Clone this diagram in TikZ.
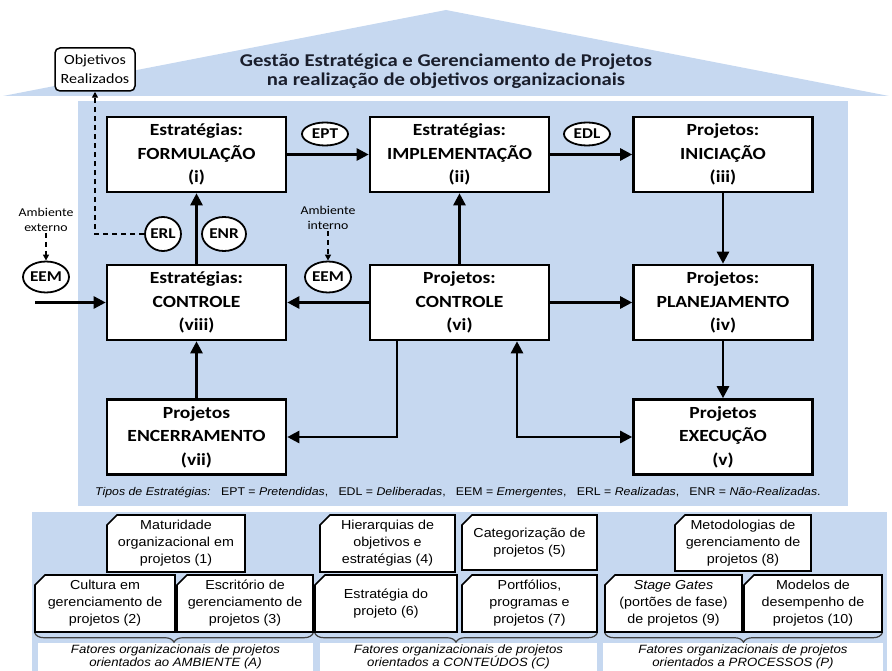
\documentclass[tikz,border=0pt]{standalone}
\usepackage{fontspec}
\setmainfont{Carlito}[FakeStretch=1.15]
\newfontfamily\arialf{Liberation Sans}[FakeStretch=1.1]
\usetikzlibrary{arrows.meta,shapes.geometric,decorations.pathreplacing}

\definecolor{paleblue}{RGB}{198,216,240}
\definecolor{titleink}{RGB}{26,30,44}

\tikzset{
  stagebox/.style={draw=black, line width=2.6pt, fill=white,
    minimum width=179pt, minimum height=75pt, inner sep=0pt, align=center,
    font=\bfseries\fontsize{17}{23.5}\selectfont},
  tag/.style={ellipse, draw=black, line width=1.8pt, fill=white,
    minimum width=46pt, minimum height=23pt, inner sep=0pt,
    font=\bfseries\fontsize{15}{15}\selectfont},
  flow/.style={line width=2.6pt, -{Triangle[length=12pt,width=12pt]}},
  twoway/.style={line width=2.6pt,
    {Triangle[length=12pt,width=12pt]}-{Triangle[length=12pt,width=12pt]}},
  hint/.style={line width=1.4pt, dash pattern=on 5pt off 4pt,
    -{Triangle[length=6pt,width=6pt]}},
  envtext/.style={align=center, inner sep=1pt,
    font=\fontsize{12}{15}\selectfont},
  factorframe/.style={draw=black, line width=1.6pt, fill=white},
  factortext/.style={inner sep=0pt, align=center,
    font=\arialf\fontsize{13}{17}\selectfont},
  factorgroup/.style={fill=white, inner sep=0pt, align=center,
    font=\arialf\itshape\fontsize{12}{13.5}\selectfont},
  groupbrace/.style={decorate, decoration={brace, amplitude=9pt},
    line width=1.2pt, draw=black!75},
}

% organisational factor box with a snipped top-left corner
% #1 name, #2 centre x, #3 centre y, #4 width, #5 height, #6 text
\newcommand\factorbox[6]{%
  \filldraw[factorframe]
    ({#2-#4/2},{#3+#5/2}) -- ({#2-#4/2},{#3-#5/2+10}) --
    ({#2-#4/2+10},{#3-#5/2}) -- ({#2+#4/2},{#3-#5/2}) --
    ({#2+#4/2},{#3+#5/2}) -- cycle;
  \node[factortext, minimum width=#4, minimum height=#5] (#1) at (#2,#3) {#6};}

\begin{document}
\begin{tikzpicture}[x=1pt,y=-1pt]
\useasboundingbox (0,0) rectangle (892,671);

% roof and the two panels
\fill[paleblue] (3,96) -- (446,10) -- (889,96) -- cycle;
\fill[paleblue] (78,101) rectangle (848,506);
\fill[paleblue] (32,512) rectangle (887,671);

% title under the roof
\node[font=\bfseries\fontsize{18}{18.5}\selectfont, text=titleink, align=center]
  (title) at (446,71)
  {Gestão Estratégica e Gerenciamento de Projetos\\na realização de objetivos organizacionais};

% realised objectives
\node[draw=black, line width=1.5pt, fill=white, rounded corners=5pt,
  minimum width=80pt, minimum height=43pt, inner sep=0pt, align=center,
  font=\fontsize{14}{19}\selectfont] (goal) at (95,69.5) {Objetivos\\Realizados};

% strategy and project stages
\node[stagebox] (form)  at (196.5,154.5) {Estratégias:\\FORMULAÇÃO\\(i)};
\node[stagebox] (impl)  at (459.5,154.5) {Estratégias:\\IMPLEMENTAÇÃO\\(ii)};
\node[stagebox] (inic)  at (723,154.5)   {Projetos:\\INICIAÇÃO\\(iii)};
\node[stagebox] (ectrl) at (196.5,302.5) {Estratégias:\\CONTROLE\\(viii)};
\node[stagebox] (pctrl) at (459.5,302.5) {Projetos:\\CONTROLE\\(vi)};
\node[stagebox] (plan)  at (723,302.5)   {Projetos:\\PLANEJAMENTO\\(iv)};
\node[stagebox] (enc)   at (196.5,437)   {Projetos\\ENCERRAMENTO\\(vii)};
\node[stagebox] (exec)  at (723,437)     {Projetos\\EXECUÇÃO\\(v)};

% strategy type tags
\node[tag] (ept) at (325,134) {EPT};
\node[tag] (edl) at (587,134) {EDL};
\node[tag, minimum width=34pt, minimum height=34pt] (erl) at (163,234) {ERL};
\node[tag, minimum width=44pt, minimum height=34pt] (enr) at (224,234) {ENR};
\node[tag, minimum height=31pt] (eemx) at (46,277) {EEM};
\node[tag, minimum height=31pt] (eemi) at (328,277) {EEM};

% environment inputs
\node[envtext] (extenv) at (46,220) {Ambiente\\externo};
\node[envtext] (intenv) at (328,218) {Ambiente\\interno};
\draw[hint] (extenv) -- (eemx);
\draw[hint] (intenv) -- (eemi);
\draw[hint] (erl.west) -| (goal.south);
\coordinate (extin) at (35,302.5);
\draw[flow] (extin) -- (ectrl.west);

% stage flow
\draw[flow] (form.east) -- (impl.west);
\draw[flow] (impl.east) -- (inic.west);
\draw[flow] (inic.south) -- (plan.north);
\draw[flow] (plan.south) -- (exec.north);
\draw[flow] (pctrl.east) -- (plan.west);
\draw[flow] (pctrl.west) -- (ectrl.east);
\draw[flow] (pctrl.north) -- (impl.south);
\draw[flow] (ectrl.north) -- (form.south);
\draw[flow] (enc.north) -- (ectrl.south);
\draw[flow] ([xshift=-62.5pt]pctrl.south) |- (enc.east);
\draw[twoway] ([xshift=57.5pt]pctrl.south) |- (exec.west);

% legend of strategy types
\node[anchor=west, inner sep=0pt, font=\arialf\fontsize{11.2}{11.2}\selectfont] (legend) at (95,493)
  {\textit{Tipos de Estratégias:}\ \ \ EPT = \textit{Pretendidas},\ \ \ EDL = \textit{Deliberadas},\ \ \ EEM = \textit{Emergentes},\ \ \ ERL = \textit{Realizadas},\ \ \ ENR = \textit{Não-Realizadas}.};

% organisational factors, upper row
\factorbox{mat}{176}{543.5}{138}{57}{Maturidade\\organizacional em\\projetos (1)}
\factorbox{hier}{387.5}{543.5}{135}{57}{Hierarquias de\\objetivos e\\estratégias (4)}
\factorbox{cat}{529.5}{542.5}{135}{55}{Categorização de\\projetos (5)}
\factorbox{met}{743}{543}{136}{56}{Metodologias de\\gerenciamento de\\projetos (8)}

% organisational factors, lower row
\factorbox{cult}{105}{603.5}{140}{57}{Cultura em\\gerenciamento de\\projetos (2)}
\factorbox{esc}{245}{603.5}{136}{57}{Escritório de\\gerenciamento de\\projetos (3)}
\factorbox{estr}{386}{603.5}{142}{57}{Estratégia do\\projeto (6)}
\factorbox{port}{529.5}{603.5}{135}{57}{Portfólios,\\programas e\\projetos (7)}
\factorbox{gate}{673.5}{603.5}{137}{57}{\textit{Stage Gates}\\(portões de fase)\\de projetos (9)}
\factorbox{mod}{813}{603.5}{138}{57}{Modelos de\\desempenho de\\projetos (10)}

% factor groups
\node[factorgroup, minimum width=275pt, minimum height=28pt] (grpA) at (175.5,657)
  {Fatores organizacionais de projetos\\orientados ao AMBIENTE (A)};
\node[factorgroup, minimum width=277pt, minimum height=28pt] (grpC) at (458.5,657)
  {Fatores organizacionais de projetos\\orientados a CONTEÚDOS (C)};
\node[factorgroup, minimum width=280pt, minimum height=28pt] (grpP) at (743,657)
  {Fatores organizacionais de projetos\\orientados a PROCESSOS (P)};

\draw[groupbrace] ([yshift=-1pt]esc.south east) -- ([yshift=-1pt]cult.south west);
\draw[groupbrace] ([yshift=-1pt]port.south east) -- ([yshift=-1pt]estr.south west);
\draw[groupbrace] ([yshift=-1pt]mod.south east) -- ([yshift=-1pt]gate.south west);
\end{tikzpicture}
\end{document}
